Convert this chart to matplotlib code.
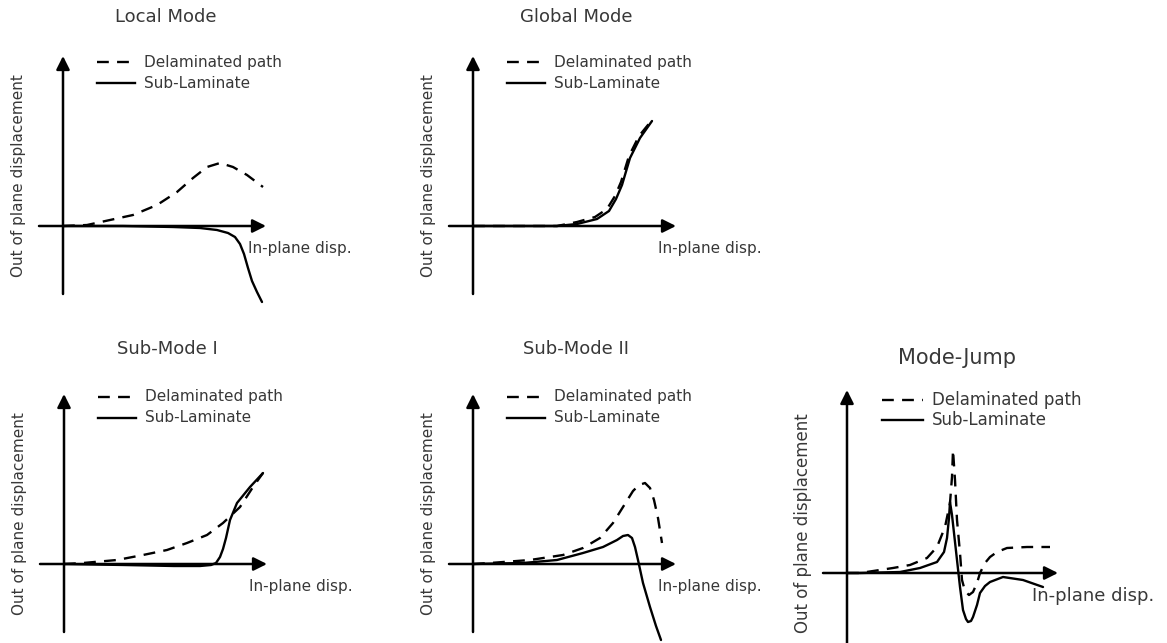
import matplotlib
matplotlib.use("Agg")
import matplotlib.pyplot as plt

plt.rcParams['font.family'] = ['DejaVu Sans']

W, H = 1167, 643

titles = ["Local Mode", "Global Mode", "Sub-Mode I", "Sub-Mode II", "Mode-Jump"]
legend_labels = ["Delaminated path", "Sub-Laminate"]
xlabel = "In-plane disp."
ylabel = "Out of plane displacement"

# Curves (units: pixels relative to the panel origin, y up)
local_del_x = [0, 24, 47, 70, 94, 114, 130, 144, 157, 170, 184, 200]
local_del_y = [0, 1, 6, 11, 21, 34, 48, 59, 63, 59, 51, 39]
local_sub_x = [0, 60, 110, 137, 154, 165, 172, 177, 181, 185, 189, 194, 199]
local_sub_y = [0, 0, -1, -2, -4, -7, -11, -18, -28, -42, -55, -66, -76]

global_del_x = [0, 60, 84, 104, 122, 134, 142, 148, 156, 166, 179]
global_del_y = [0, 0, 0, 4, 9, 17, 30, 44, 70, 90, 106]
global_sub_x = [0, 60, 84, 104, 124, 136, 143, 149, 157, 167, 179]
global_sub_y = [0, 0, 0, 2, 7, 15, 27, 41, 68, 88, 105]

sub1_del_x = [0, 19, 53, 79, 103, 123, 143, 159, 176, 189, 199]
sub1_del_y = [0, 1, 4, 9, 14, 21, 29, 41, 57, 77, 91]
sub1_sub_x = [0, 60, 110, 136, 147, 152, 156, 159, 162, 166, 173, 186, 199]
sub1_sub_y = [0, -1, -2, -2, -1, 1, 7, 15, 26, 44, 61, 77, 91]

sub2_del_x = [0, 17, 57, 90, 110, 127, 140, 150, 160, 166, 172, 177, 181, 185, 189]
sub2_del_y = [0, 1, 4, 9, 16, 26, 41, 57, 73, 79, 81, 76, 64, 46, 21]
sub2_sub_x = [0, 50, 84, 110, 130, 144, 150, 155, 159, 162, 165, 170, 177, 183, 188]
sub2_sub_y = [0, 1, 4, 11, 17, 24, 28, 29, 26, 17, 4, -19, -43, -62, -76]

jump_del_x = [0, 13, 46, 63, 80, 90, 98, 103, 105, 106, 108, 110, 113, 115, 118, 122, 126, 130, 133, 138, 143, 150, 160, 180, 203]
jump_del_y = [0, 0, 5, 8, 15, 26, 46, 70, 96, 123, 93, 53, 20, -7, -18, -22, -19, -10, 0, 10, 16, 21, 25, 26, 26]
jump_sub_x = [0, 13, 53, 73, 90, 97, 100, 102, 103, 105, 107, 110, 113, 116, 119, 121, 124, 126, 130, 133, 138, 143, 156, 176, 196]
jump_sub_y = [0, 0, 1, 5, 11, 21, 35, 55, 71, 58, 40, 13, -14, -37, -46, -49, -48, -44, -32, -20, -13, -9, -4, -7, -14]

panels = [
    # origin_x, origin_y (pixels), curves
    (63, 226, (local_del_x, local_del_y), (local_sub_x, local_sub_y)),
    (473, 226, (global_del_x, global_del_y), (global_sub_x, global_sub_y)),
    (64, 564, (sub1_del_x, sub1_del_y), (sub1_sub_x, sub1_sub_y)),
    (473, 564, (sub2_del_x, sub2_del_y), (sub2_sub_x, sub2_sub_y)),
    (847, 573, (jump_del_x, jump_del_y), (jump_sub_x, jump_sub_y)),
]

fig = plt.figure(figsize=(W / 100, H / 100), dpi=100)

XL, XR, YB, YT = -80, 300, -110, 240
txt_col = '#383838'

for i, (ox, oy, dcur, scur) in enumerate(panels):
    left = (ox + XL) / W
    bottom = (H - (oy - YB)) / H
    ax = fig.add_axes([left, bottom, (XR - XL) / W, (YT - YB) / H])
    ax.set_xlim(XL, XR)
    ax.set_ylim(YB, YT)
    ax.axis('off')
    ax.patch.set_alpha(0)

    is_jump = (i == 4)
    ytop = 183 if is_jump else 170
    ybot = -72 if is_jump else -68
    xtip = 211 if is_jump else 203

    # axes arrows
    ax.annotate('', xy=(0, ytop), xytext=(0, ybot),
                arrowprops=dict(arrowstyle='-|>', color='k', lw=1.8,
                                mutation_scale=20, shrinkA=0, shrinkB=0),
                annotation_clip=False)
    ax.annotate('', xy=(xtip, 0), xytext=(-24, 0),
                arrowprops=dict(arrowstyle='-|>', color='k', lw=1.8,
                                mutation_scale=20, shrinkA=0, shrinkB=0),
                annotation_clip=False)

    # curves
    ax.plot(scur[0], scur[1], color='k', lw=1.7, solid_capstyle='round',
            solid_joinstyle='round', clip_on=False)
    ax.plot(dcur[0], dcur[1], color='k', lw=1.7, ls=(0, (5, 3.5)),
            clip_on=False)

    # title
    ty = 215 if i >= 2 else 209
    tx = 110 if is_jump else 103
    tfs = 15 if is_jump else 13
    ax.text(tx, ty, titles[i], ha='center', va='center', fontsize=tfs,
            color=txt_col)

    # legend
    ly1 = 173 if is_jump else (167 if i >= 2 else 164)
    ly2 = ly1 - 21 if not is_jump else ly1 - 20
    lx0, lx1, ltx = (35, 76, 85) if is_jump else (34, 72, 81)
    ax.plot([lx0, lx1], [ly1, ly1], color='k', lw=1.7, ls=(0, (5, 3.5)),
            clip_on=False)
    ax.plot([lx0, lx1], [ly2, ly2], color='k', lw=1.7, clip_on=False)
    lfs = 12 if is_jump else 11
    ax.text(ltx, ly1, legend_labels[0], ha='left', va='center', fontsize=lfs,
            color=txt_col)
    ax.text(ltx, ly2, legend_labels[1], ha='left', va='center', fontsize=lfs,
            color=txt_col)

    # axis labels
    xfs = 13 if is_jump else 11
    ax.text(185, -23, xlabel, ha='left', va='center', fontsize=xfs,
            color=txt_col)
    ax.text(-44, 50, ylabel, ha='center', va='center', rotation=90,
            fontsize=lfs, color=txt_col)

fig.savefig('out.png', dpi=100)
